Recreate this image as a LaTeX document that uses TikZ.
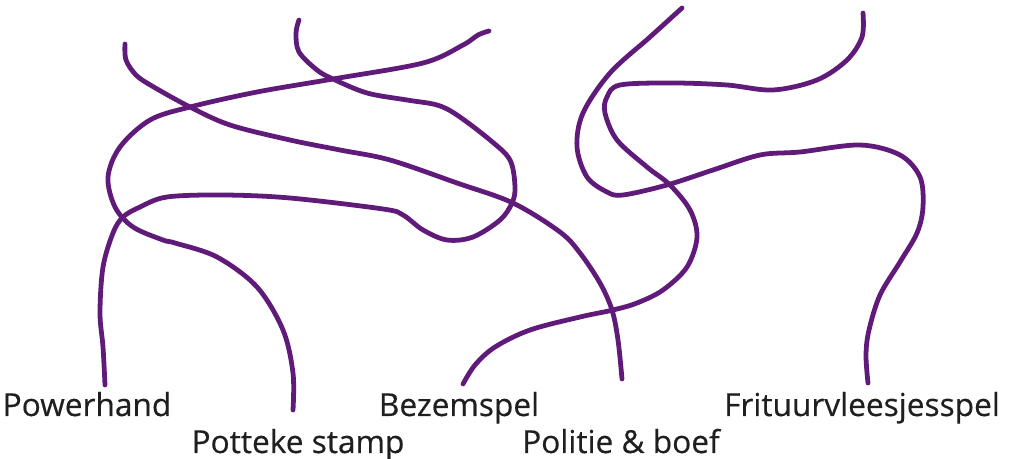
\documentclass[tikz,border=0pt]{standalone}
\usepackage{fontspec}
\setmainfont{Open Sans}
\newfontfamily\labfont{Open Sans}[FakeBold=0.4]
\usetikzlibrary{positioning}
\definecolor{yarnpurple}{RGB}{96,27,122}
\tikzset{
  strand/.style={draw=yarnpurple, line width=3.4pt, line cap=round, line join=round},
  lab/.style={font=\labfont\fontsize{22.5}{26}\selectfont, text=black!88, anchor=base, inner sep=0pt},
}
\begin{document}
\begin{tikzpicture}[x=0.025cm,y=-0.025cm]
  \path[use as bounding box] (0,0) rectangle (1009,459);

  % Names under the loose ends.
  \node[lab] (powerhand) at (87,416) {Powerhand};
  \node[lab] (potteke) at (298,453) {Potteke stamp};
  \node[lab] (bezem) at (459,416) {Bezemspel};
  \node[lab] (politie) at (621,453) {Politie \& boef};
  \node[lab] (frituur) at (862,416) {Frituurvleesjesspel};

  % Free ends at the top and the ends above the names.
  \coordinate (topA) at (489,31);
  \coordinate (topB) at (125,44);
  \coordinate (topC) at (682,8);
  \coordinate (topD) at (863,13);
  \coordinate (topE) at (299,20);
  \coordinate (endA) at (293,410);
  \coordinate (endB) at (622,379);
  \coordinate (endC) at (868,383);
  \coordinate (endD) at (463,384);
  \coordinate (endE) at (105,385);

  % The tangled strands.
  \draw[strand] plot[smooth, tension=0.55] coordinates {(topA) (478,35) (463,45) (423,63)
    (333,79) (257,92) (190,107) (150,120) (120,147) (108,177) (115,207) (133,227)
    (163,240) (175,243) (217,257) (257,287) (283,330) (293,373) (endA)};
  \draw[strand] plot[smooth, tension=0.55] coordinates {(topB) (126,60) (136,75) (152,86)
    (190,107) (230,125) (290,140) (340,150) (390,160) (457,183) (513,203) (560,232)
    (580,253) (600,283) (612,310) (618,340) (endB)};
  \draw[strand] plot[smooth, tension=0.55] coordinates {(topC) (650,37) (610,73) (583,113)
    (577,147) (587,177) (607,192) (623,195) (667,185) (713,170) (760,155) (800,152)
    (860,145) (900,155) (920,177) (923,207) (917,233) (900,262) (880,295) (869,330)
    (866,355) (endC)};
  \draw[strand] plot[smooth, tension=0.55] coordinates {(topD) (862,37) (847,60) (817,80)
    (773,90) (727,85) (673,83) (620,85) (607,97) (605,113) (617,140) (647,167)
    (670,185) (690,210) (697,237) (687,267) (663,290) (637,303) (613,310) (580,317)
    (530,330) (495,347) (475,365) (endD)};
  \draw[strand] plot[smooth, tension=0.55] coordinates {(topE) (296,33) (299,52) (317,70)
    (333,79) (367,93) (407,100) (437,105) (457,115) (490,140) (510,160) (515,187)
    (512,203) (500,220) (473,237) (447,240) (423,230) (403,215) (383,209) (290,198)
    (223,195) (167,197) (140,207) (123,217) (113,233) (103,267) (100,313) (103,347)
    (endE)};
\end{tikzpicture}
\end{document}
